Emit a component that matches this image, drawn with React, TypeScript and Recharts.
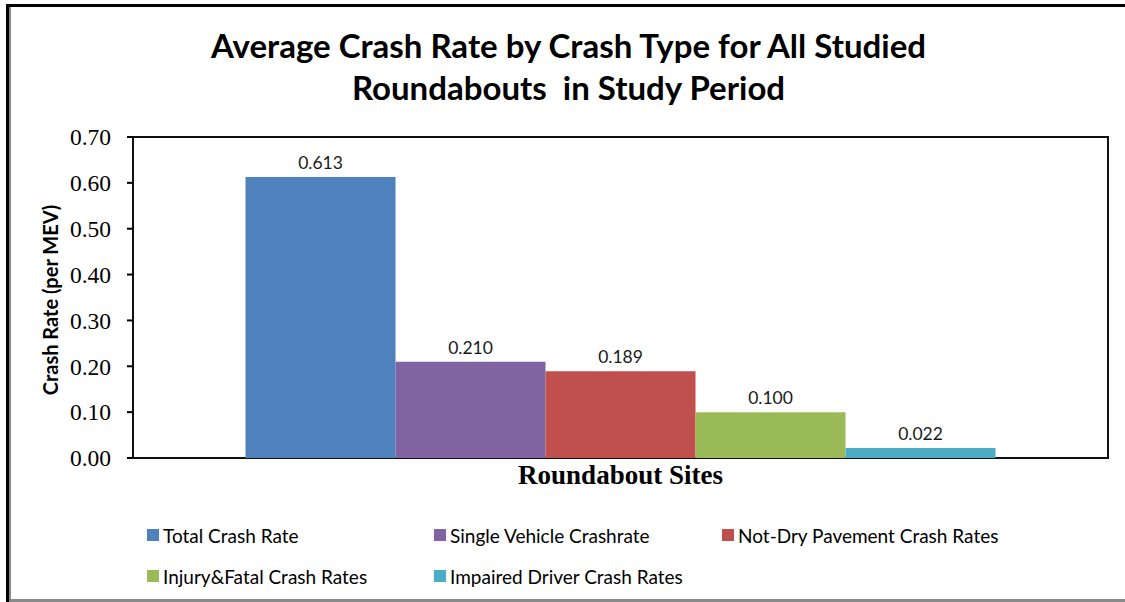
import { BarChart, Bar, XAxis, YAxis, ReferenceArea, LabelList } from "recharts";

const sites = ["Roundabout Sites"];
const seriesNames = [
  "Total Crash Rate",
  "Single Vehicle Crashrate",
  "Not-Dry Pavement Crash Rates",
  "Injury&Fatal Crash Rates",
  "Impaired Driver Crash Rates",
];
const seriesValues = [0.613, 0.21, 0.189, 0.1, 0.022];
const seriesColors = ["#4F81BD", "#8064A2", "#C0504D", "#9BBB59", "#4BACC6"];
const yTicks = [0, 0.1, 0.2, 0.3, 0.4, 0.5, 0.6, 0.7];

const data = sites.map((site) => {
  const row: Record<string, string | number> = { site };
  seriesNames.forEach((name, i) => {
    row[name] = seriesValues[i];
  });
  return row;
});

const sans = "Lato, 'Open Sans', sans-serif";
const serif = "'Liberation Serif', 'Times New Roman', serif";

// legend grid: 3 columns, wraps to a second row
const legendCols = [147, 434, 722];
const legendRows = [535, 576];

export default function App() {
  return (
    <div style={{ position: "absolute", left: 0, top: 0, width: 1125, height: 602, background: "#fff" }}>
      {/* frame */}
      <div style={{ position: "absolute", left: 6, top: 4, right: 0, bottom: 0, borderLeft: "3px solid #000", borderTop: "3px solid #000" }} />
      <div style={{ position: "absolute", left: 9, top: 7, right: 0, height: 592, borderLeft: "2px solid #8a8a8a", borderBottom: "3px solid #8a8a8a" }} />

      <div
        style={{
          position: "absolute",
          left: 0,
          top: 24,
          width: 1137,
          textAlign: "center",
          fontFamily: sans,
          fontWeight: 700,
          fontSize: 33,
          lineHeight: "42px",
          color: "#000",
        }}
      >
        Average Crash Rate by Crash Type for All Studied
        <br />
        Roundabouts&nbsp; in Study Period
      </div>

      <div style={{ position: "absolute", left: 0, top: 0 }}>
        <BarChart
          width={1125}
          height={602}
          data={data}
          margin={{ top: 137, right: 17, bottom: 144, left: 0 }}
          barCategoryGap="11.54%"
          barGap={0}
        >
          <XAxis dataKey="site" hide />
          <YAxis
            width={133}
            domain={[0, 0.7]}
            ticks={yTicks}
            interval={0}
            tickFormatter={(v: number) => v.toFixed(2)}
            tick={{ fill: "#000", fontSize: 23.5, fontFamily: serif }}
            tickLine={{ stroke: "#000", strokeWidth: 2 }}
            tickSize={6}
            tickMargin={16}
            axisLine={false}
            label={{
              content: () => (
                <text
                  x={50}
                  y={300}
                  transform="rotate(-90 50 300)"
                  textAnchor="middle"
                  dominantBaseline="central"
                  fontFamily={sans}
                  fontWeight={700}
                  fontSize={20}
                  fill="#000"
                >
                  Crash Rate (per MEV)
                </text>
              ),
            }}
          />
          {seriesNames.map((name, i) => (
            <Bar key={name} dataKey={name} fill={seriesColors[i]} isAnimationActive={false}>
              <LabelList
                dataKey={name}
                position="top"
                offset={8}
                formatter={(v: number) => v.toFixed(3)}
                style={{ fontFamily: sans, fontSize: 17.5, fill: "#1a1a1a" }}
              />
            </Bar>
          ))}
          <ReferenceArea y1={0} y2={0.7} fill="none" stroke="#111" strokeWidth={2} ifOverflow="visible" />
        </BarChart>
      </div>

      <div
        style={{
          position: "absolute",
          left: 133,
          width: 975,
          top: 460,
          textAlign: "center",
          fontFamily: serif,
          fontWeight: 700,
          fontSize: 27,
          color: "#000",
        }}
      >
        Roundabout Sites
      </div>

      {seriesNames.map((name, i) => (
        <div
          key={name}
          style={{
            position: "absolute",
            left: legendCols[i % 3],
            top: legendRows[Math.floor(i / 3)] - 13,
            height: 26,
            display: "flex",
            alignItems: "center",
            fontFamily: sans,
            fontSize: 19,
            color: "#000",
            whiteSpace: "nowrap",
          }}
        >
          <span style={{ width: 12, height: 12, background: seriesColors[i], marginRight: 4 }} />
          {name}
        </div>
      ))}
    </div>
  );
}
